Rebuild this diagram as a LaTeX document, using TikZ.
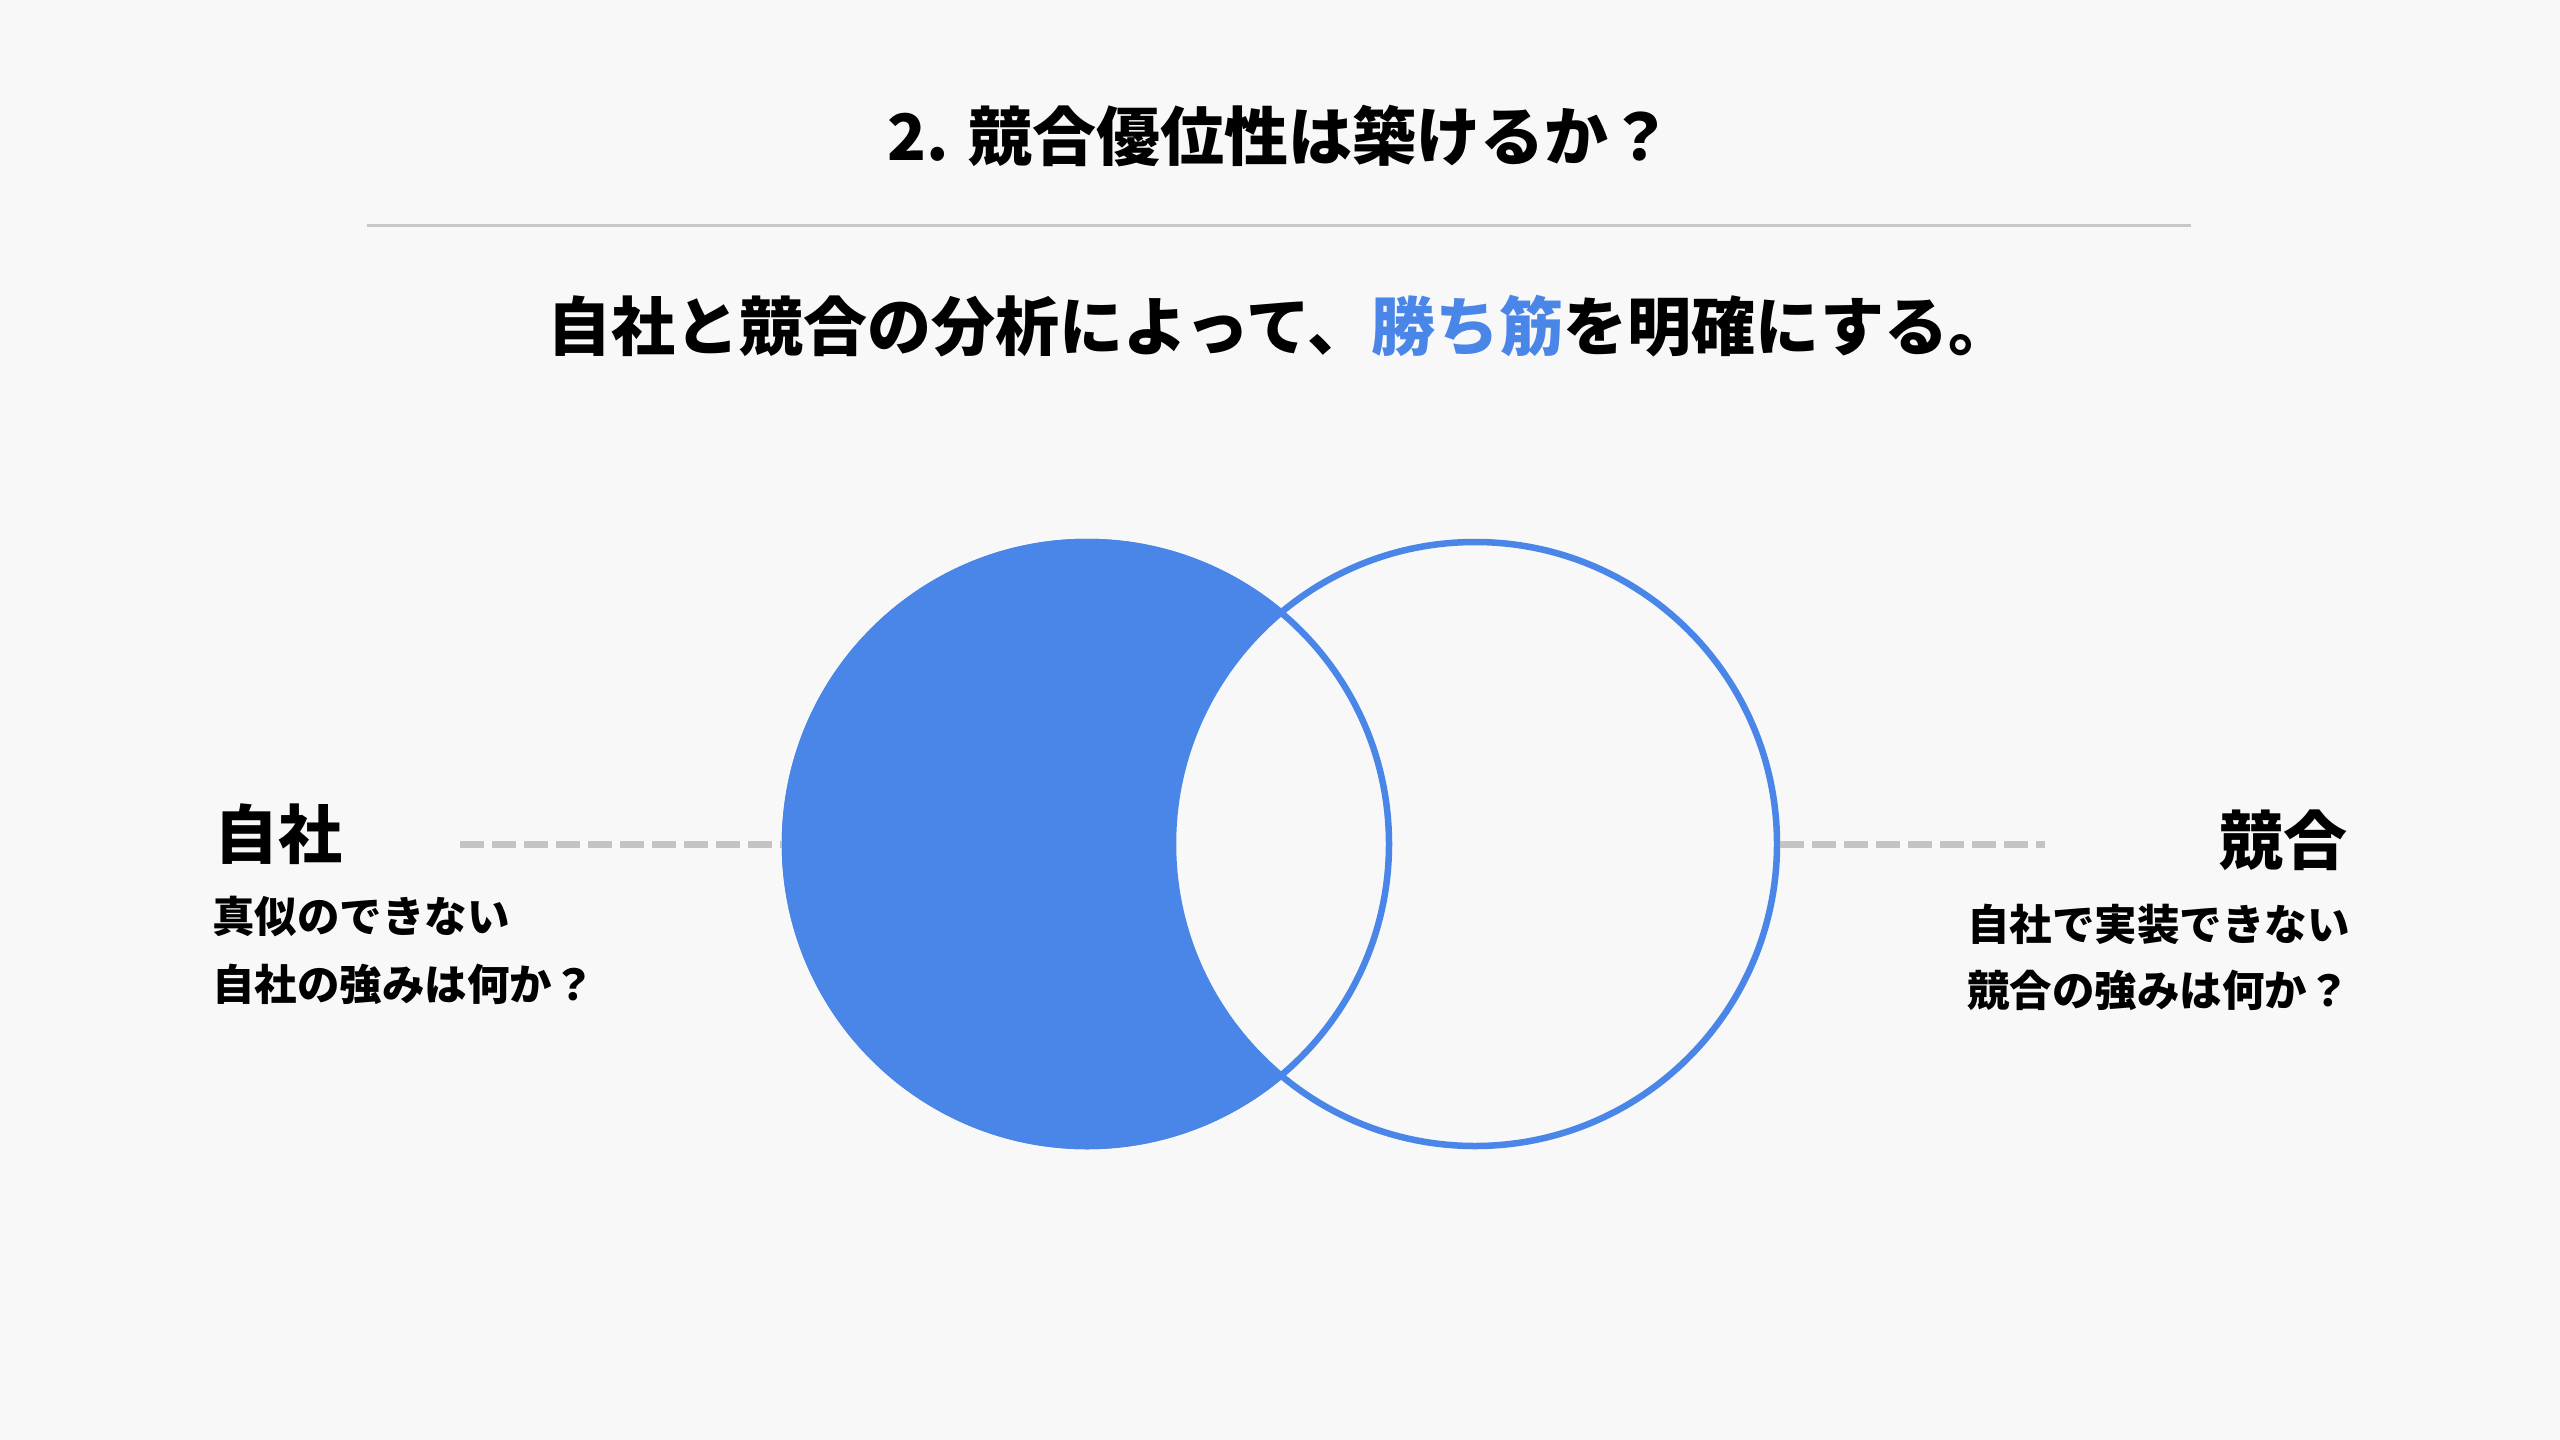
\documentclass[tikz,border=0pt]{standalone}
\usepackage{fontspec}
\setmainfont{Noto Sans CJK JP}
\definecolor{slideblue}{HTML}{4A86E8}
\definecolor{slidebg}{HTML}{F8F8F8}
\definecolor{rulegrey}{HTML}{C8C8C8}
\definecolor{dashgrey}{HTML}{C3C3C3}
\begin{document}
\begin{tikzpicture}[
  x=1pt, y=-1pt,
  venn/.style={circle,draw=slideblue,line width=6.5pt,minimum size=604pt,inner sep=0pt},
  guide/.style={draw=dashgrey,line width=7pt,dash pattern=on 24pt off 8pt},
  heading/.style={font=\fontsize{64}{72}\selectfont\bfseries,inner sep=0pt,anchor=base},
  sidehead/.style={font=\fontsize{64}{72}\selectfont\bfseries,inner sep=0pt},
  sidenote/.style={font=\fontsize{42.5}{48}\selectfont\bfseries,inner sep=0pt}
]
  \useasboundingbox (0,0) rectangle (2560,1440);
  \fill[slidebg] (0,0) rectangle (2560,1440);

  \node[heading] (title) at (1280,160) {2. 競合優位性は築けるか？};
  \coordinate (rulel) at (367,225);
  \coordinate (ruler) at (2191,225);
  \draw[rulegrey,line width=3pt] (rulel) -- (ruler);
  \node[heading] (lead) at (1280,350)
    {自社と競合の分析によって、\textcolor{slideblue}{勝ち筋}を明確にする。};

  \node[venn,fill=slideblue] (self) at (1087,844) {};
  \node[venn,fill=slidebg] (rival) at (1475,844) {};
  \draw[slideblue,line width=6.5pt] (self.center) circle[radius=302pt];

  \node[sidehead,anchor=base west] (selfhead) at (214,858) {自社};
  \node[sidenote,anchor=base west] (selfq1) at (212,932) {真似のできない};
  \node[sidenote,anchor=base west] (selfq2) at (212,1000) {自社の強みは何か？};

  \node[sidehead,anchor=base east] (rivalhead) at (2348,864) {競合};
  \node[sidenote,anchor=base east] (rivalq1) at (2350,940) {自社で実装できない};
  \node[sidenote,anchor=base east] (rivalq2) at (2350,1006) {競合の強みは何か？};

  \coordinate (selfend) at (460,844);
  \coordinate (rivalend) at (2045,844);
  \draw[guide] (selfend) -- (self.west);
  \draw[guide] (rival.east) -- (rivalend);
\end{tikzpicture}
\end{document}
